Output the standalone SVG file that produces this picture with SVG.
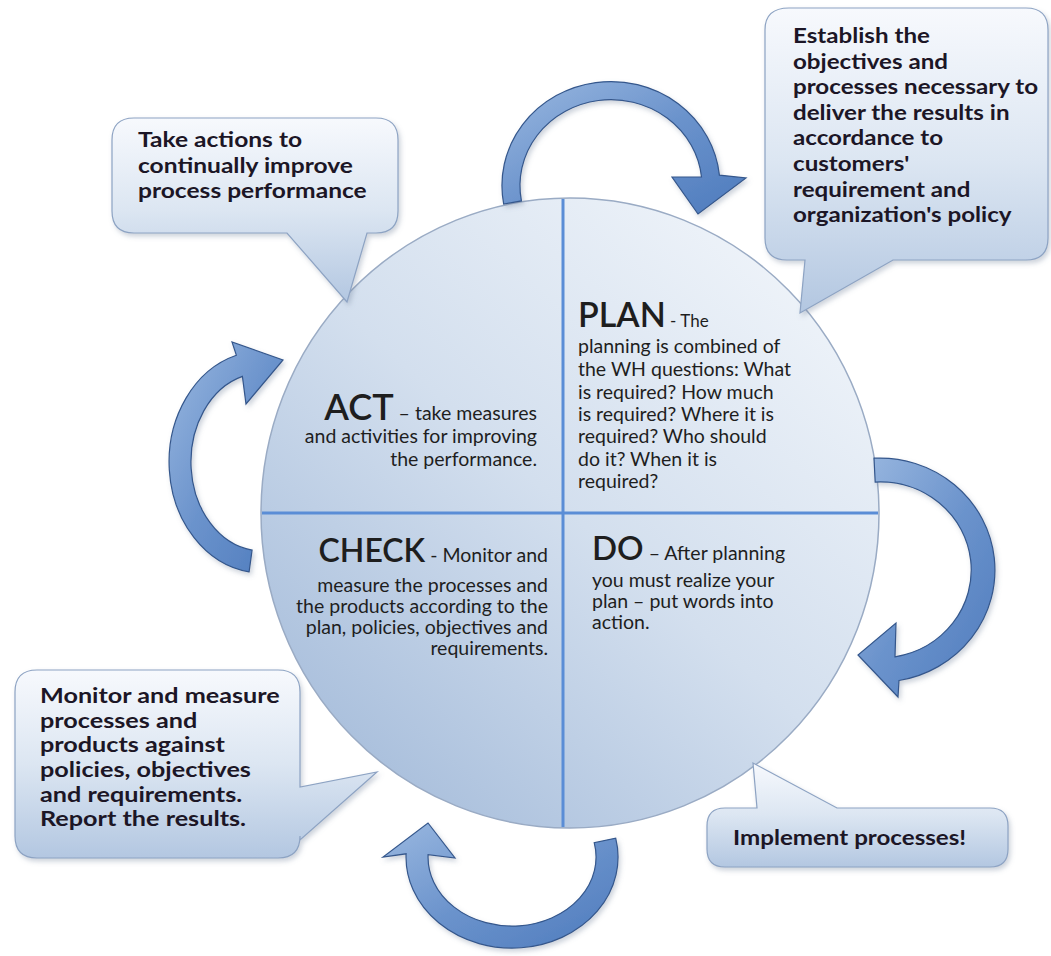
<svg xmlns="http://www.w3.org/2000/svg" width="1051" height="956" viewBox="0 0 1051 956">
<defs>
<linearGradient id="gCircle" x1="0.85" y1="0.1" x2="0.15" y2="0.9">
<stop offset="0" stop-color="#eef3f9"/>
<stop offset="0.5" stop-color="#d3dfee"/>
<stop offset="1" stop-color="#a9bfdc"/>
</linearGradient>
<linearGradient id="gCallout" x1="0" y1="0" x2="0" y2="1">
<stop offset="0" stop-color="#f7f9fd"/>
<stop offset="0.5" stop-color="#dce6f2"/>
<stop offset="1" stop-color="#b3c7e1"/>
</linearGradient>
<linearGradient id="gArrow" x1="0" y1="0" x2="1" y2="1">
<stop offset="0" stop-color="#9ab8e0"/>
<stop offset="0.5" stop-color="#6b93cc"/>
<stop offset="1" stop-color="#4e7bbd"/>
</linearGradient>
<filter id="shadow" x="-10%" y="-10%" width="130%" height="130%">
<feDropShadow dx="2" dy="3" stdDeviation="2.5" flood-color="#6d7f99" flood-opacity="0.35"/>
</filter>
</defs>
<style>
.circle{fill:url(#gCircle);stroke:#9aabc4;stroke-width:1.5}
.div{stroke:#5a8dd6;stroke-width:3}
.arrow{fill:url(#gArrow);stroke:#34578c;stroke-width:1.2;filter:url(#shadow)}
.callout{fill:url(#gCallout);stroke:#8da3c3;stroke-width:1.2;filter:url(#shadow)}
.ct{font-family:Lato,"Open Sans","Liberation Sans",sans-serif;font-weight:700;font-size:21px;fill:#1c1626}
.body{font-family:Lato,"Open Sans","Liberation Sans",sans-serif;font-size:19.5px;fill:#1e1e1e}
.big{font-weight:600}
</style>
<g id="cycle">
<ellipse class="circle" cx="570" cy="513" rx="309" ry="315"/>
<line class="div" x1="563" y1="199" x2="563" y2="827"/>
<line class="div" x1="262" y1="513" x2="878" y2="513"/>
</g>
<g id="connectors">
<path class="arrow" d="M 503.7 204.1 A 109 104 0 1 1 719.4 175.1 L 746 178 L 698 214 L 672 177 L 701.5 177 A 91 86 0 1 0 521.4 200.9 Z"/>
<path class="arrow" d="M 874 458.2 A 115 112 0 0 1 899 680.5 L 898 697 L 858 655 L 896 623 L 895 656.8 A 91 88 0 0 0 875.2 482.1 Z"/>
<path class="arrow" d="M 615.7 838.1 A 106 91 0 1 1 406.1 853.8 L 383 857 L 428 823 L 455 858 L 428.1 854.6 A 84 69 0 1 0 594.2 842.7 Z"/>
<path class="arrow" d="M 249.1 571.9 A 93 111 0 0 1 236.4 355.3 L 232 342 L 283 360 L 246 404 L 242.4 376.4 A 71 89 0 0 0 252.1 550.1 Z"/>
</g>
<g id="act">
<text class="body" x="537" y="420" text-anchor="end"><tspan class="big" font-size="36">ACT</tspan><tspan> – take measures</tspan></text>
<text class="body" x="537" y="443" text-anchor="end">and activities for improving</text>
<text class="body" x="537" y="466" text-anchor="end">the performance.</text>
</g>
<g id="plan">
<text class="body" x="578" y="327"><tspan class="big" font-size="34">PLAN</tspan><tspan font-size="17"> - The</tspan></text>
<text class="body" x="578" y="353">planning is combined of</text>
<text class="body" x="578" y="376">the WH questions: What</text>
<text class="body" x="578" y="399">is required? How much</text>
<text class="body" x="578" y="421">is required? Where it is</text>
<text class="body" x="578" y="443">required? Who should</text>
<text class="body" x="578" y="466">do it? When it is</text>
<text class="body" x="578" y="488">required?</text>
</g>
<g id="check">
<text class="body" x="548" y="562" text-anchor="end"><tspan class="big" font-size="32">CHECK</tspan><tspan> - Monitor and</tspan></text>
<text class="body" x="548" y="592" text-anchor="end">measure the processes and</text>
<text class="body" x="548" y="613" text-anchor="end">the products according to the</text>
<text class="body" x="548" y="634" text-anchor="end">plan, policies, objectives and</text>
<text class="body" x="548" y="655" text-anchor="end">requirements.</text>
</g>
<g id="do">
<text class="body" x="592" y="560"><tspan class="big" font-size="33">DO</tspan><tspan> – After planning</tspan></text>
<text class="body" x="592" y="587">you must realize your</text>
<text class="body" x="592" y="608">plan – put words into</text>
<text class="body" x="592" y="629">action.</text>
</g>
<g id="callout-act">
<path class="callout" d="M 134 118 H 376 Q 398 118 398 140 V 211 Q 398 233 376 233 H 367 L 347 302 L 287 233 H 134 Q 112 233 112 211 V 140 Q 112 118 134 118 Z"/>
<g transform="translate(138,0) scale(1.17,1)">
<text class="ct" x="0" y="147">Take actions to</text>
<text class="ct" x="0" y="173">continually improve</text>
<text class="ct" x="0" y="198">process performance</text>
</g>
</g>
<g id="callout-plan">
<path class="callout" d="M 789 8 H 1026 Q 1048 8 1048 30 V 238 Q 1048 260 1026 260 H 893 L 800 313 L 805 260 H 787 Q 765 260 765 238 V 30 Q 765 8 789 8 Z"/>
<g transform="translate(793,0) scale(1.15,1)">
<text class="ct" x="0" y="43">Establish the</text>
<text class="ct" x="0" y="68.6">objectives and</text>
<text class="ct" x="0" y="94.2">processes necessary to</text>
<text class="ct" x="0" y="119.8">deliver the results in</text>
<text class="ct" x="0" y="145.4">accordance to</text>
<text class="ct" x="0" y="171">customers'</text>
<text class="ct" x="0" y="196.6">requirement and</text>
<text class="ct" x="0" y="222.2">organization's policy</text>
</g>
</g>
<g id="callout-check">
<path class="callout" d="M 37 670 H 278 Q 300 670 300 692 V 787 L 377 772 L 300 840 V 836 Q 300 858 278 858 H 37 Q 15 858 15 836 V 692 Q 15 670 37 670 Z"/>
<g transform="translate(40,0) scale(1.2,1)">
<text class="ct" x="0" y="703" font-size="20.5">Monitor and measure</text>
<text class="ct" x="0" y="727.7" font-size="20.5">processes and</text>
<text class="ct" x="0" y="752.4" font-size="20.5">products against</text>
<text class="ct" x="0" y="777.1" font-size="20.5">policies, objectives</text>
<text class="ct" x="0" y="801.8" font-size="20.5">and requirements.</text>
<text class="ct" x="0" y="826.5" font-size="20.5">Report the results.</text>
</g>
</g>
<g id="callout-do">
<path class="callout" d="M 725 808 H 757 L 753 763 L 837 808 H 990 Q 1008 808 1008 826 V 849 Q 1008 867 990 867 H 725 Q 707 867 707 849 V 826 Q 707 808 725 808 Z"/>
<g transform="translate(733,0) scale(1.15,1)">
<text class="ct" x="0" y="845">Implement processes!</text>
</g>
</g>
</svg>
